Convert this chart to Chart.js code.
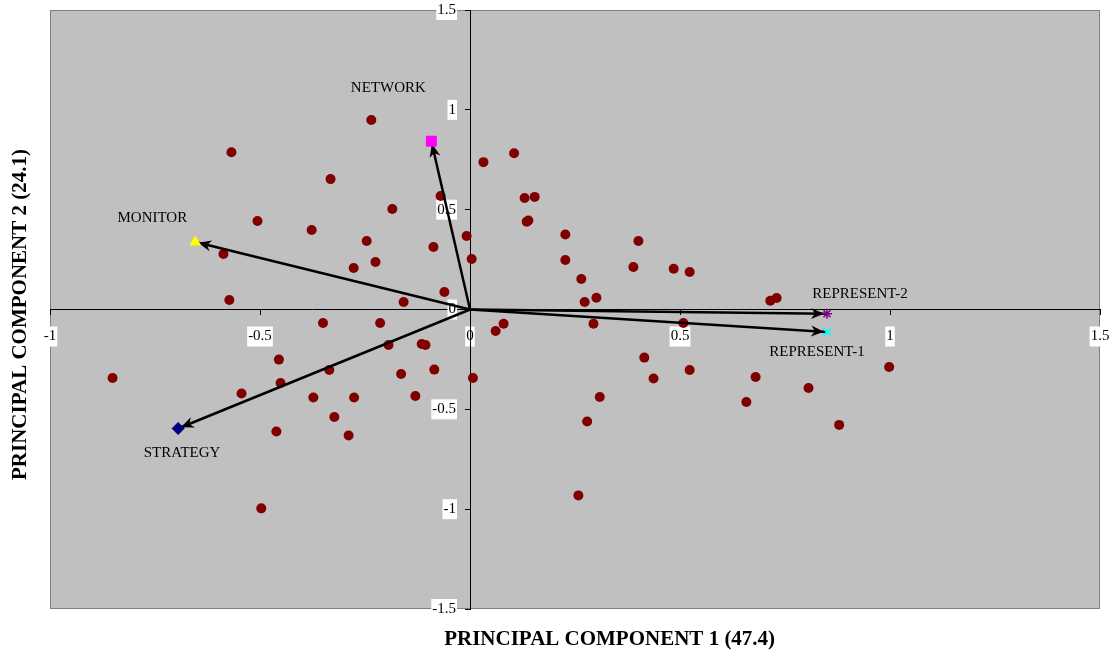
<!DOCTYPE html>
<html>
<head>
<meta charset="utf-8">
<script src="https://cdn.jsdelivr.net/npm/chart.js@4.4.1/dist/chart.umd.min.js"></script>
<style>
  html, body { margin: 0; padding: 0; background: #fff; }
</style>
</head>
<body>
<canvas id="myChart" width="1114" height="658"></canvas>
<script>
// object scores (dots)
const scoreX = [
  -0.235, -0.568, -0.332, -0.070, -0.185, -0.506, -0.377, -0.246, -0.008, -0.087,
  -0.587, -0.225, -0.277, 0.004, -0.061, -0.573, -0.158,
  0.105, 0.032, 0.130, 0.154, 0.135, 0.139, 0.227, 0.401, 0.227, 0.389, 0.485,
  0.523, 0.265, 0.301, 0.273, 0.715, 0.730,
  -0.350, -0.214, -0.194, -0.115, -0.106, -0.851, -0.455, -0.335, -0.164, -0.085,
  0.007, -0.544, -0.451, -0.373, -0.276, -0.130, -0.323, -0.461, -0.289, -0.497,
  0.080, 0.061, 0.294, 0.508, 0.415, 0.523, 0.437, 0.680, 0.309, 0.806, 0.658,
  0.279, 0.879, 0.998, 0.258
];
const scoreY = [
  0.949, 0.788, 0.653, 0.568, 0.503, 0.443, 0.398, 0.343, 0.368, 0.313,
  0.278, 0.238, 0.208, 0.253, 0.088, 0.048, 0.038,
  0.783, 0.738, 0.558, 0.564, 0.440, 0.446, 0.376, 0.343, 0.248, 0.213, 0.204,
  0.188, 0.153, 0.059, 0.038, 0.044, 0.058,
  -0.068, -0.068, -0.178, -0.173, -0.178, -0.343, -0.251, -0.303, -0.323, -0.301,
  -0.343, -0.421, -0.368, -0.441, -0.441, -0.433, -0.538, -0.611, -0.631, -0.996,
  -0.071, -0.108, -0.071, -0.068, -0.241, -0.303, -0.346, -0.338, -0.438, -0.393, -0.463,
  -0.561, -0.578, -0.288, -0.931
];

// variable loadings (arrows)
const varNames = ["NETWORK", "MONITOR", "STRATEGY", "REPRESENT-2", "REPRESENT-1"];
const loadX = [-0.092, -0.654, -0.695, 0.850, 0.850];
const loadY = [0.843, 0.338, -0.596, -0.021, -0.113];

const xTicks = [-1, -0.5, 0, 0.5, 1, 1.5];
const yTicks = [-1.5, -1, -0.5, 0, 0.5, 1, 1.5];

const xTitle = "PRINCIPAL COMPONENT 1 (47.4)";
const yTitle = "PRINCIPAL COMPONENT 2 (24.1)";

const serif = '"Liberation Serif", "Times New Roman", serif';

const markerStyle = ['rect', 'triangle', 'rectRot', 'star', 'crossRot'];
const markerColor = ['#ff00ff', '#ffff00', '#000080', '#800080', '#00ffff'];
const markerRadius = [7, 6, 6, 5, 5];
const markerBorder = [1, 1, 1, 1.5, 2];

// where each name sits relative to its marker (px)
const labelOffset = {
  "NETWORK": [-43, -53],
  "MONITOR": [-43, -24],
  "STRATEGY": [4, 25],
  "REPRESENT-2": [33, -20],
  "REPRESENT-1": [-10, 20]
};

const plotBg = {
  id: 'plotBg',
  beforeDraw(chart) {
    const { ctx, chartArea: a } = chart;
    ctx.save();
    ctx.fillStyle = '#c0c0c0';
    ctx.fillRect(a.left, a.top, a.width, a.height);
    ctx.strokeStyle = '#808080';
    ctx.lineWidth = 1;
    ctx.strokeRect(a.left + 0.5, a.top + 0.5, a.width - 1, a.height - 1);
    ctx.restore();
  }
};

// put the y axis on x = 0 (Excel style crossing)
const yAxisAtZero = {
  id: 'yAxisAtZero',
  afterLayout(chart) {
    const x0 = chart.scales.x.getPixelForValue(0);
    const y = chart.scales.y;
    y.left = x0 - 60;
    y.right = x0;
    y.width = 60;
  }
};

const arrowHeads = {
  id: 'arrowHeads',
  afterDatasetDraw(chart, args) {
    const ds = chart.data.datasets[args.index];
    if (!ds.isVector) return;
    const p0 = args.meta.data[0], p1 = args.meta.data[1];
    const ang = Math.atan2(p1.y - p0.y, p1.x - p0.x);
    const c = Math.cos(ang), s = Math.sin(ang);
    const tx = p1.x - 3 * c, ty = p1.y - 3 * s;
    const L = 13, W = 5.5, N = 9;
    const ctx = chart.ctx;
    ctx.save();
    ctx.fillStyle = '#000';
    ctx.beginPath();
    ctx.moveTo(tx, ty);
    ctx.lineTo(tx - L * c + W * s, ty - L * s - W * c);
    ctx.lineTo(tx - N * c, ty - N * s);
    ctx.lineTo(tx - L * c - W * s, ty - L * s + W * c);
    ctx.closePath();
    ctx.fill();
    ctx.restore();
  }
};

const textLabels = {
  id: 'textLabels',
  afterDraw(chart) {
    const { ctx, chartArea: a } = chart;
    const meta = chart.getDatasetMeta(0);
    ctx.save();
    ctx.fillStyle = '#000';
    ctx.textAlign = 'center';
    ctx.textBaseline = 'middle';
    ctx.font = '15px ' + serif;
    varNames.forEach((n, i) => {
      const p = meta.data[i];
      const o = labelOffset[n];
      ctx.fillText(n, p.x + o[0], p.y + o[1]);
    });
    ctx.font = 'bold 21px ' + serif;
    ctx.fillText(xTitle, a.left + a.width * 0.533, a.bottom + 31);
    ctx.translate(21, a.top + a.height / 2 + 5);
    ctx.rotate(-Math.PI / 2);
    ctx.fillText(yTitle, 0, 0);
    ctx.restore();
  }
};

// axes sit inside the plot, so their label overflow should not shrink it
function noPadding(s) {
  s.paddingTop = 0;
  s.paddingBottom = 0;
  s.paddingLeft = 0;
  s.paddingRight = 0;
}

const datasets = [];

datasets.push({
  label: 'variables',
  order: 0,
  data: varNames.map((n, i) => ({ x: loadX[i], y: loadY[i] })),
  pointStyle: markerStyle,
  pointRadius: markerRadius,
  backgroundColor: markerColor,
  borderColor: markerColor,
  borderWidth: markerBorder
});

varNames.forEach((n, i) => {
  datasets.push({
    type: 'line',
    label: n,
    isVector: true,
    order: 1,
    data: [{ x: 0, y: 0 }, { x: loadX[i], y: loadY[i] }],
    borderColor: '#000',
    borderWidth: 2.5,
    pointRadius: 0,
    fill: false,
    tension: 0
  });
});

datasets.push({
  label: 'scores',
  order: 2,
  data: scoreX.map((x, i) => ({ x: x, y: scoreY[i] })),
  pointStyle: 'circle',
  pointRadius: 5,
  backgroundColor: '#800000',
  borderColor: '#800000',
  borderWidth: 0
});

const tickFont = { family: serif, size: 15 };

new Chart(document.getElementById('myChart'), {
  type: 'scatter',
  data: { datasets: datasets },
  plugins: [plotBg, yAxisAtZero, arrowHeads, textLabels],
  options: {
    responsive: false,
    animation: false,
    devicePixelRatio: 1,
    layout: { padding: { left: 50, top: 10, right: 14, bottom: 49 } },
    plugins: {
      legend: { display: false },
      tooltip: { enabled: false },
      title: { display: false }
    },
    scales: {
      x: {
        type: 'linear',
        min: -1,
        max: 1.5,
        position: { y: 0 },
        afterBuildTicks: (s) => { s.ticks = xTicks.map(v => ({ value: v })); },
        afterFit: noPadding,
        grid: { drawOnChartArea: false, tickLength: 5, tickColor: '#000', tickWidth: 1 },
        border: { color: '#000', width: 1 },
        ticks: {
          color: '#000',
          font: tickFont,
          padding: 13,
          maxRotation: 0,
          autoSkip: false,
          showLabelBackdrop: true,
          backdropColor: '#fff',
          backdropPadding: 1,
          callback: (v) => String(v)
        }
      },
      y: {
        type: 'linear',
        min: -1.5,
        max: 1.5,
        position: 'left',
        afterBuildTicks: (s) => { s.ticks = yTicks.map(v => ({ value: v })); },
        afterFit: (s) => { noPadding(s); s.width = 0; },
        grid: { drawOnChartArea: false, tickLength: 5, tickColor: '#000', tickWidth: 1 },
        border: { color: '#000', width: 1 },
        ticks: {
          color: '#000',
          font: tickFont,
          padding: 9,
          autoSkip: false,
          showLabelBackdrop: true,
          backdropColor: '#fff',
          backdropPadding: 1,
          callback: (v) => String(v)
        }
      }
    }
  }
});
</script>
</body>
</html>
